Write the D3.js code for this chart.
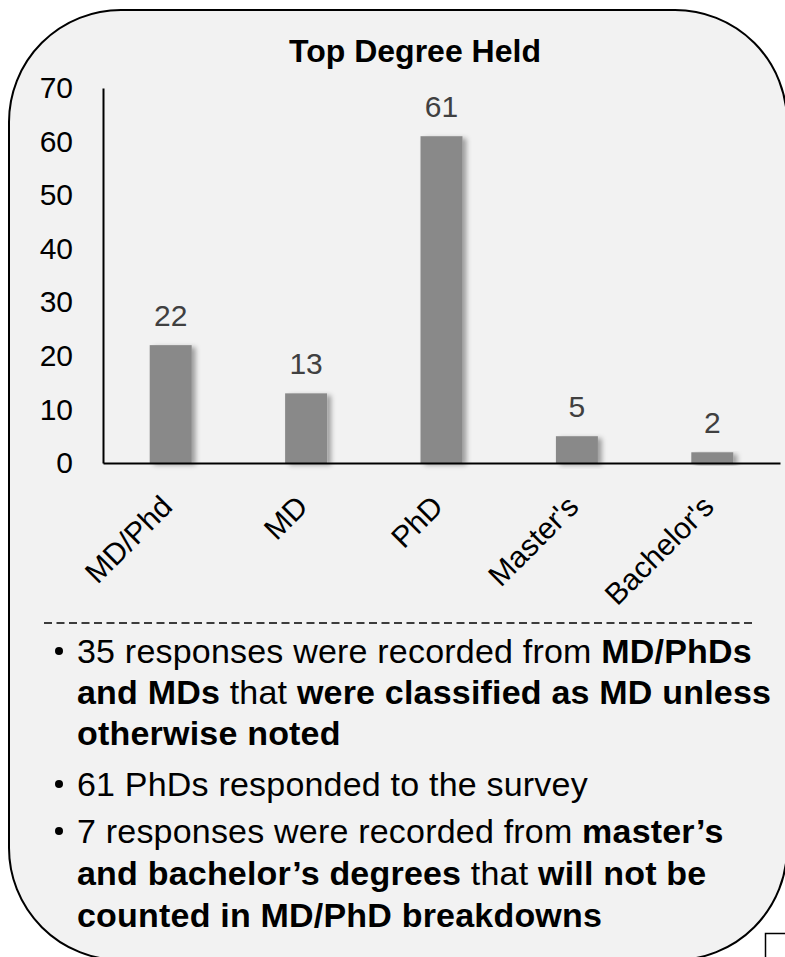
<!DOCTYPE html>
<html>
<head>
<meta charset="utf-8">
<script src="https://cdn.jsdelivr.net/npm/d3@7"></script>
<style>
  html, body { margin: 0; padding: 0; background: #fff; }
  svg { display: block; }
  text { font-family: Arial, "Liberation Sans", sans-serif; }
</style>
</head>
<body>
<script>
// chart data
const title = "Top Degree Held";
const categories = ["MD/Phd", "MD", "PhD", "Master's", "Bachelor's"];
const counts = [22, 13, 61, 5, 2];
const yTicks = [0, 10, 20, 30, 40, 50, 60, 70];

// notes under the chart: each line is a list of [text, bold]
const noteLines = [
  { bullet: true, parts: [["35 responses were recorded from ", false], ["MD/PhDs", true]] },
  { bullet: false, parts: [["and MDs", true], [" that ", false], ["were classified as MD unless", true]] },
  { bullet: false, parts: [["otherwise noted", true]] },
  { bullet: true, parts: [["61 PhDs responded to the survey", false]] },
  { bullet: true, parts: [["7 responses were recorded from ", false], ["master\u2019s", true]] },
  { bullet: false, parts: [["and bachelor\u2019s degrees", true], [" that ", false], ["will not be", true]] },
  { bullet: false, parts: [["counted in MD/PhD breakdowns", true]] }
];

const svgWidth = 785;
const svgHeight = 957;
const plot = { left: 103, right: 780, top: 88, bottom: 463 };

const svg = d3.select("body").append("svg")
  .attr("width", svgWidth)
  .attr("height", svgHeight);

const defs = svg.append("defs");
const shadow = defs.append("filter")
  .attr("id", "barShadow")
  .attr("x", "-30%").attr("y", "-10%")
  .attr("width", "170%").attr("height", "130%");
shadow.append("feDropShadow")
  .attr("dx", 4).attr("dy", 2)
  .attr("stdDeviation", 2.5)
  .attr("flood-color", "#000")
  .attr("flood-opacity", 0.35);

// rounded background panel
svg.append("rect")
  .attr("x", 9).attr("y", 10)
  .attr("width", 778).attr("height", 950)
  .attr("rx", 112).attr("ry", 112)
  .attr("fill", "#f2f2f2")
  .attr("stroke", "#000")
  .attr("stroke-width", 2);

// small box peeking in at bottom right
svg.append("rect")
  .attr("x", 765.5).attr("y", 933.5)
  .attr("width", 60).attr("height", 60)
  .attr("fill", "#fff")
  .attr("stroke", "#000")
  .attr("stroke-width", 1.5);

svg.append("text")
  .attr("x", 415).attr("y", 62)
  .attr("text-anchor", "middle")
  .attr("font-size", 32)
  .attr("font-weight", "bold")
  .attr("fill", "#000")
  .text(title);

const x = d3.scaleBand()
  .domain(categories)
  .range([plot.left, plot.right])
  .paddingInner(0.69)
  .paddingOuter(0.345);

const y = d3.scaleLinear()
  .domain([0, 70])
  .range([plot.bottom, plot.top]);

// bars
svg.append("g")
  .selectAll("rect")
  .data(counts)
  .join("rect")
  .attr("x", (d, i) => x(categories[i]))
  .attr("y", (d) => y(d))
  .attr("width", x.bandwidth())
  .attr("height", (d) => y(0) - y(d))
  .attr("fill", "#898989")
  .attr("filter", "url(#barShadow)");

// value labels
svg.append("g")
  .selectAll("text")
  .data(counts)
  .join("text")
  .attr("x", (d, i) => x(categories[i]) + x.bandwidth() / 2)
  .attr("y", (d) => y(d) - 19)
  .attr("text-anchor", "middle")
  .attr("font-size", 30)
  .attr("fill", "#404040")
  .text((d) => d);

// y axis
const yAxis = svg.append("g")
  .attr("transform", "translate(" + plot.left + ",0)")
  .call(d3.axisLeft(y).tickValues(yTicks).tickSize(0).tickSizeOuter(0).tickPadding(30));
yAxis.select(".domain").attr("stroke", "#000").attr("stroke-width", 2);
yAxis.selectAll("text")
  .attr("font-size", 30)
  .attr("font-family", "Arial, 'Liberation Sans', sans-serif")
  .attr("fill", "#000");

// x axis
const xAxis = svg.append("g")
  .attr("transform", "translate(0," + plot.bottom + ")")
  .call(d3.axisBottom(x).tickSize(0).tickSizeOuter(0));
xAxis.select(".domain").attr("stroke", "#000").attr("stroke-width", 2);
xAxis.selectAll(".tick text")
  .attr("font-size", 30)
  .attr("font-family", "Arial, 'Liberation Sans', sans-serif")
  .attr("fill", "#000")
  .attr("text-anchor", "end")
  .attr("x", -4)
  .attr("y", 38)
  .attr("dy", "0.35em")
  .attr("transform", "rotate(-45,-4,38)");

// dashed separator
svg.append("line")
  .attr("x1", 44).attr("x2", 752)
  .attr("y1", 623).attr("y2", 623)
  .attr("stroke", "#000")
  .attr("stroke-width", 1.5)
  .attr("stroke-dasharray", "8,4.5");

// notes
const baselines = [663, 704, 745, 796, 843, 885, 927];
const notes = svg.append("g")
  .attr("font-size", 34)
  .attr("letter-spacing", 0.2)
  .attr("fill", "#000");

noteLines.forEach((line, i) => {
  if (line.bullet) {
    notes.append("circle")
      .attr("cx", 59).attr("cy", baselines[i] - 12)
      .attr("r", 4)
      .attr("fill", "#000");
  }
  const t = notes.append("text")
    .attr("x", 77).attr("y", baselines[i])
    .attr("xml:space", "preserve")
    .style("white-space", "pre");
  line.parts.forEach((p) => {
    t.append("tspan")
      .attr("font-weight", p[1] ? "bold" : "normal")
      .text(p[0]);
  });
});
</script>
</body>
</html>
